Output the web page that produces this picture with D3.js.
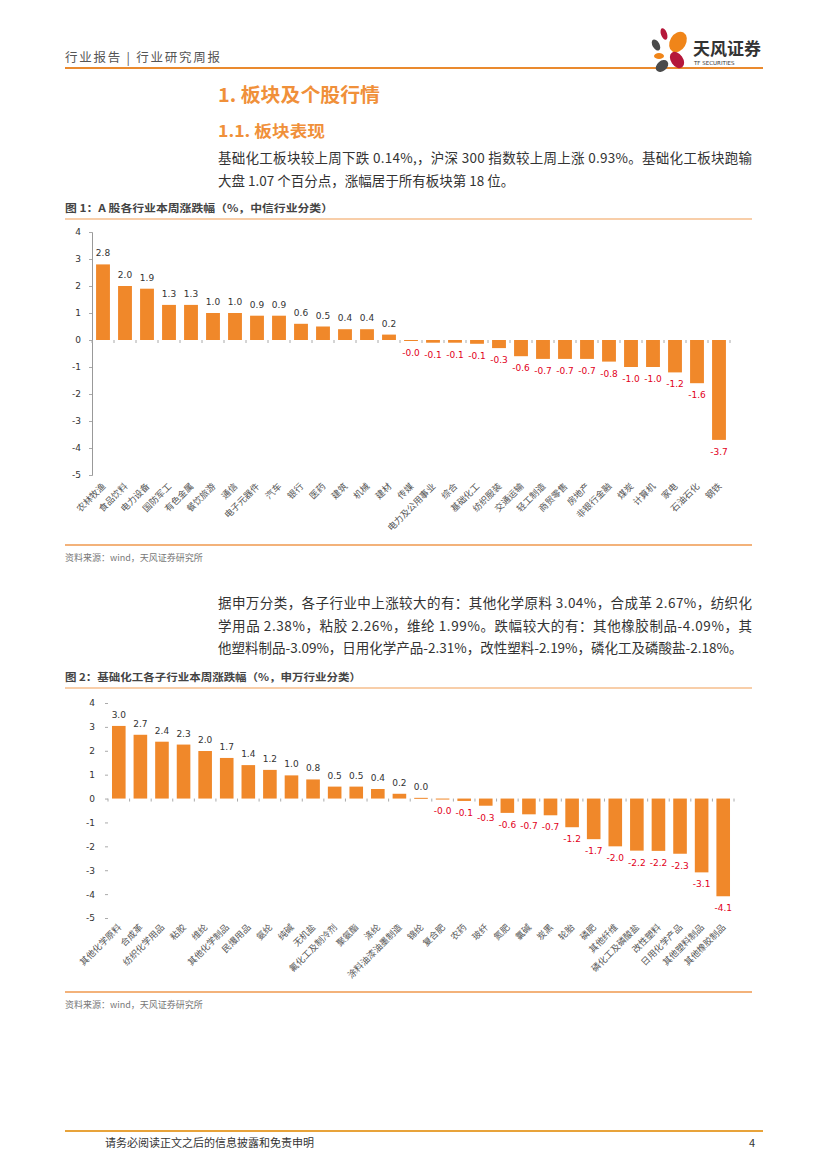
<!DOCTYPE html>
<html>
<head>
<meta charset="utf-8">
<script src="https://cdn.jsdelivr.net/npm/d3@7"></script>
<style>
  body { margin: 0; background: #fff; }
  svg { display: block; font-family: "Noto Sans CJK SC", "Noto Sans", sans-serif; }
</style>
</head>
<body>
<div id="page"></div>
<script>
// 图1 中信行业
const citicNames = ['农林牧渔', '食品饮料', '电力设备', '国防军工', '有色金属', '餐饮旅游', '通信', '电子元器件', '汽车', '银行',
    '医药', '建筑', '机械', '建材', '传媒', '电力及公用事业', '综合', '基础化工', '纺织服装', '交通运输',
    '轻工制造', '商贸零售', '房地产', '非银行金融', '煤炭', '计算机', '家电', '石油石化', '钢铁'];
const citicValues = [2.8, 2.0, 1.9, 1.3, 1.3, 1.0, 1.0, 0.9, 0.9, 0.6,
    0.5, 0.4, 0.4, 0.2, -0.02, -0.1, -0.1, -0.14, -0.3, -0.6,
    -0.7, -0.7, -0.7, -0.8, -1.0, -1.0, -1.2, -1.6, -3.7];

// 图2 申万子行业
const swNames = ['其他化学原料', '合成革', '纺织化学用品', '粘胶', '维纶', '其他化学制品', '民爆用品', '氨纶', '纯碱', '无机盐',
    '氟化工及制冷剂', '聚氨酯', '涤纶', '涂料油漆油墨制造', '锦纶', '复合肥', '农药', '玻纤', '氮肥', '氯碱',
    '炭黑', '轮胎', '磷肥', '其他纤维', '磷化工及磷酸盐', '改性塑料', '日用化学产品', '其他塑料制品', '其他橡胶制品'];
const swValues = [3.04, 2.67, 2.38, 2.26, 1.99, 1.7, 1.4, 1.2, 0.97, 0.8,
    0.5, 0.5, 0.4, 0.2, 0.03, -0.03, -0.1, -0.3, -0.6, -0.66,
    -0.7, -1.2, -1.7, -2.0, -2.18, -2.19, -2.31, -3.09, -4.09];

const yTicks = [4, 3, 2, 1, 0, -1, -2, -3, -4, -5];

const para1 = [
    '基础化工板块较上周下跌 0.14%,，沪深 300 指数较上周上涨 0.93%。基础化工板块跑输',
    '大盘 1.07 个百分点，涨幅居于所有板块第 18 位。'
];
const para2 = [
    '据申万分类，各子行业中上涨较大的有：其他化学原料 3.04%，合成革 2.67%，纺织化',
    '学用品 2.38%，粘胶 2.26%，维纶 1.99%。跌幅较大的有：其他橡胶制品-4.09%，其',
    '他塑料制品-3.09%，日用化学产品-2.31%，改性塑料-2.19%，磷化工及磷酸盐-2.18%。'
];

const orange = '#F0882A';
const red = '#E2001A';

// plain hyphen minus, keep "-0.0"
const fmt1 = d => (d < 0 ? '-' : '') + Math.abs(d).toFixed(1);
const fmtInt = d => (d < 0 ? '-' : '') + Math.abs(d);

const svg = d3.select('#page').append('svg')
    .attr('width', 827)
    .attr('height', 1169);

// header
svg.append('text').attr('x', 65).attr('y', 62)
    .text('行业报告 | 行业研究周报')
    .attr('textLength', 155).attr('lengthAdjust', 'spacing')
    .style('font-size', '12.5px').style('fill', '#555');
svg.append('line').attr('x1', 65).attr('x2', 763).attr('y1', 68).attr('y2', 68)
    .style('stroke', '#EA8A2E').style('stroke-width', 2);

// logo
let logo = svg.append('g');
logo.append('ellipse').attr('cx', 664).attr('cy', 34).attr('rx', 3).attr('ry', 6).attr('transform', 'rotate(-20 664 34)').style('fill', '#B5173A');
logo.append('ellipse').attr('cx', 678).attr('cy', 42).attr('rx', 8).attr('ry', 11).attr('transform', 'rotate(30 678 42)').style('fill', '#F08519');
logo.append('ellipse').attr('cx', 656).attr('cy', 45).attr('rx', 3.5).attr('ry', 6).attr('transform', 'rotate(-30 656 45)').style('fill', '#4a4a4a');
logo.append('ellipse').attr('cx', 659).attr('cy', 56).attr('rx', 5).attr('ry', 3).style('fill', '#F08519');
logo.append('ellipse').attr('cx', 677).attr('cy', 60).attr('rx', 6).attr('ry', 9).attr('transform', 'rotate(-35 677 60)').style('fill', '#B5173A');
logo.append('ellipse').attr('cx', 662).attr('cy', 66).attr('rx', 7).attr('ry', 5).attr('transform', 'rotate(-40 662 66)').style('fill', '#4a4a4a');
logo.append('text').attr('x', 693).attr('y', 55).text('天风证券')
    .style('font-size', '17px').style('font-weight', 'bold').style('fill', '#333');
logo.append('text').attr('x', 694).attr('y', 65).text('TF SECURITIES')
    .style('font-size', '5.5px').style('fill', '#333').style('font-family', 'DejaVu Sans');

// titles
svg.append('text').attr('x', 218).attr('y', 102).text('1. 板块及个股行情')
    .attr('textLength', 162).attr('lengthAdjust', 'spacingAndGlyphs')
    .style('font-size', '19px').style('font-weight', 'bold').style('fill', '#F0903A');
svg.append('text').attr('x', 218).attr('y', 137).text('1.1. 板块表现')
    .attr('textLength', 107).attr('lengthAdjust', 'spacingAndGlyphs')
    .style('font-size', '16px').style('font-weight', 'bold').style('fill', '#F0903A');

function drawPara(lines, y0) {
    lines.forEach((t, i) => {
        let txt = svg.append('text')
            .attr('x', 218)
            .attr('y', y0 + i * 22.5)
            .text(t)
            .style('font-size', '13.5px')
            .style('fill', '#333');
        if (i < lines.length - 1) {
            txt.attr('textLength', 534).attr('lengthAdjust', 'spacing');
        }
    });
}
drawPara(para1, 163);
drawPara(para2, 608);

function caption(t, y, w) {
    svg.append('text').attr('x', 65).attr('y', y).text(t)
        .attr('textLength', w).attr('lengthAdjust', 'spacingAndGlyphs')
        .style('font-size', '10.5px').style('font-weight', 'bold').style('fill', '#444');
    svg.append('line').attr('x1', 65).attr('x2', 752).attr('y1', y + 7).attr('y2', y + 7)
        .style('stroke', '#F6BE8C').style('stroke-width', 1.5);
}
function source(y) {
    svg.append('line').attr('x1', 65).attr('x2', 752).attr('y1', y).attr('y2', y)
        .style('stroke', '#F3B27A').style('stroke-width', 2);
    svg.append('text').attr('x', 65).attr('y', y + 16).text('资料来源：wind，天风证券研究所')
        .style('font-size', '9px').style('fill', '#777');
}

caption('图 1：A 股各行业本周涨跌幅（%，中信行业分类）', 212, 268);
caption('图 2：基础化工各子行业本周涨跌幅（%，申万行业分类）', 681, 296);

function drawBars(names, values, opt) {
    let g = svg.append('g');

    let yScale = d3.scaleLinear()
        .domain([-5, 4])
        .range([opt.bottom, opt.top]);

    let xScale = d3.scaleBand()
        .domain(names)
        .range([opt.left, opt.right])
        .paddingInner(0.37)
        .paddingOuter(0.185);

    let yAxisGenerator = d3.axisLeft(yScale)
        .tickValues(yTicks)
        .tickSize(3)
        .tickPadding(opt.pad)
        .tickFormat(fmtInt);

    let yAxis = g.append('g')
        .attr('transform', `translate(${opt.left},0)`)
        .call(yAxisGenerator);
    yAxis.selectAll('text').style('font-size', '9px').style('fill', '#333').style('font-family', 'DejaVu Sans, sans-serif');
    yAxis.selectAll('line').style('stroke', '#aaa');
    yAxis.select('.domain').style('stroke', opt.showDomain ? '#999' : 'none');

    // ticks at band edges on zero line
    let step = xScale.step();
    let edges = d3.range(names.length + 1).map(i => opt.left + i * step);
    g.selectAll('.xt').data(edges).enter().append('line')
        .attr('x1', d => d).attr('x2', d => d)
        .attr('y1', yScale(0)).attr('y2', yScale(0) + 3)
        .style('stroke', '#aaa');

    g.selectAll('.bar').data(values).enter().append('rect')
        .attr('x', (d, i) => xScale(names[i]))
        .attr('width', xScale.bandwidth())
        .attr('y', d => yScale(Math.max(0, d)))
        .attr('height', d => Math.max(1, Math.abs(yScale(d) - yScale(0))))
        .style('fill', orange);

    g.selectAll('.val').data(values).enter().append('text')
        .attr('x', (d, i) => xScale(names[i]) + xScale.bandwidth() / 2)
        .attr('y', d => d >= 0 ? yScale(d) - 8 : yScale(d) + 15)
        .attr('text-anchor', 'middle')
        .text(fmt1)
        .style('font-size', '9px')
        .style('font-family', 'DejaVu Sans, sans-serif')
        .style('fill', d => d >= 0 ? '#333' : red);

    g.selectAll('.cat').data(names).enter().append('text')
        .attr('text-anchor', 'end')
        .attr('transform', d => `translate(${xScale(d) + xScale.bandwidth() / 2 + 3},${opt.labelY}) rotate(-45)`)
        .text(d => d)
        .style('font-size', '9px')
        .style('fill', '#555');
}

drawBars(citicNames, citicValues, { left: 92, right: 730, top: 232, bottom: 475, pad: 8, labelY: 487, showDomain: true });
source(545);

drawBars(swNames, swValues, { left: 108, right: 734, top: 703, bottom: 918, pad: 10, labelY: 928, showDomain: false });
source(992);

// footer
svg.append('line').attr('x1', 65).attr('x2', 763).attr('y1', 1131).attr('y2', 1131)
    .style('stroke', '#E8A33A').style('stroke-width', 2);
svg.append('text').attr('x', 105).attr('y', 1147).text('请务必阅读正文之后的信息披露和免责申明')
    .style('font-size', '11px').style('fill', '#333');
svg.append('text').attr('x', 755).attr('y', 1147).attr('text-anchor', 'end').text('4')
    .style('font-size', '11px').style('fill', '#333');
</script>
</body>
</html>
